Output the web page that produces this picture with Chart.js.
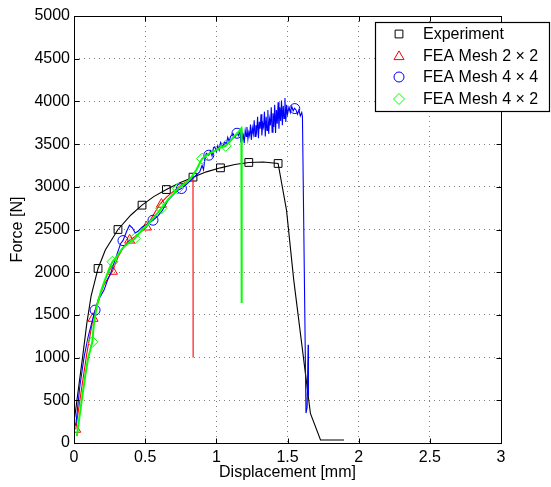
<!DOCTYPE html>
<html><head><meta charset="utf-8">
<script src="https://cdn.jsdelivr.net/npm/chart.js@4/dist/chart.umd.min.js"></script>
<style>html,body{margin:0;padding:0;background:#fff;}</style>
</head><body>
<canvas id="c" width="551" height="487" style="display:block;width:551px;height:487px"></canvas>
<script>
// ---- tick labels ----
const xTickValues = [0, 0.5, 1, 1.5, 2, 2.5, 3];
const xTickLabels = ['0', '0.5', '1', '1.5', '2', '2.5', '3'];
const yTickValues = [0, 500, 1000, 1500, 2000, 2500, 3000, 3500, 4000, 4500, 5000];
const yTickLabels = ['0', '500', '1000', '1500', '2000', '2500', '3000', '3500', '4000', '4500', '5000'];

// ---- legend labels ----
const seriesNames = ['Experiment', 'FEA Mesh 2 \u00d7 2', 'FEA Mesh 4 \u00d7 4', 'FEA Mesh 4 \u00d7 2'];

// ---- Experiment (curve + markers) ----
const expX = [0.005, 0.03, 0.06, 0.09, 0.12, 0.169, 0.22, 0.309, 0.40, 0.478, 0.56, 0.649, 0.74, 0.836, 0.93, 1.029, 1.13, 1.228, 1.33, 1.434, 1.493, 1.544, 1.661, 1.732, 1.897];
const expY = [300, 620, 1000, 1400, 1720, 2044, 2260, 2500, 2670, 2785, 2885, 2968, 3045, 3113, 3175, 3222, 3262, 3285, 3290, 3273, 2727, 1907, 347, 35, 35];
const expMarkX = [0.169, 0.309, 0.478, 0.649, 0.836, 1.029, 1.228, 1.434];
const expMarkY = [2044, 2500, 2785, 2968, 3113, 3222, 3285, 3273];

// ---- FEA Mesh 2x2 (red) ----
const m22X = [0.012, 0.05, 0.09, 0.134, 0.17, 0.21, 0.27, 0.31, 0.35, 0.391, 0.43, 0.47, 0.509, 0.55, 0.602, 0.65, 0.70, 0.76, 0.80, 0.836, 0.837];
const m22Y = [160, 600, 1050, 1459, 1680, 1850, 2010, 2180, 2300, 2375, 2420, 2470, 2528, 2650, 2795, 2880, 2950, 3030, 3070, 3105, 1000];
const m22MarkX = [0.012, 0.134, 0.27, 0.391, 0.509, 0.614];
const m22MarkY = [160, 1459, 2010, 2375, 2528, 2795];

// ---- FEA Mesh 4x4 (blue) ----
const m44X = [0.012, 0.04, 0.07, 0.10, 0.148, 0.18, 0.211, 0.234, 0.26, 0.29, 0.328, 0.344, 0.37, 0.39, 0.41, 0.43, 0.45, 0.48, 0.52, 0.555, 0.59, 0.62, 0.66, 0.70, 0.73, 0.755, 0.79, 0.83, 0.86, 0.883, 0.90, 0.91, 0.92, 0.93, 0.947, 0.96, 0.97, 0.98, 0.989, 1.00, 1.01, 1.02, 1.03, 1.045, 1.059, 1.07, 1.08, 1.09, 1.10, 1.117, 1.13, 1.145, 1.155, 1.165, 1.172, 1.178, 1.185, 1.19, 1.196, 1.203, 1.21, 1.215, 1.222, 1.228, 1.234, 1.24, 1.246, 1.253, 1.26, 1.266, 1.272, 1.278, 1.284, 1.29, 1.296, 1.302, 1.308, 1.314, 1.32, 1.326, 1.332, 1.338, 1.344, 1.35, 1.356, 1.362, 1.368, 1.374, 1.38, 1.386, 1.392, 1.398, 1.404, 1.41, 1.416, 1.422, 1.428, 1.434, 1.44, 1.446, 1.452, 1.458, 1.464, 1.47, 1.476, 1.482, 1.488, 1.494, 1.50, 1.51, 1.52, 1.53, 1.54, 1.55, 1.56, 1.57, 1.58, 1.59, 1.60, 1.605, 1.63, 1.638, 1.645, 1.647];
const m44Y = [200, 650, 1000, 1250, 1556, 1700, 1790, 1900, 2000, 2150, 2337, 2370, 2480, 2550, 2520, 2460, 2480, 2530, 2570, 2609, 2660, 2720, 2840, 2910, 2960, 2980, 3030, 3090, 3140, 3175, 3250, 3200, 3340, 3390, 3370, 3420, 3360, 3460, 3468, 3410, 3480, 3430, 3520, 3470, 3526, 3500, 3580, 3530, 3590, 3624, 3580, 3627, 3600, 3660, 3520, 3650, 3560, 3600, 3510, 3660, 3590, 3700, 3560, 3640, 3600, 3730, 3550, 3690, 3620, 3780, 3590, 3720, 3650, 3820, 3570, 3760, 3680, 3850, 3600, 3740, 3700, 3880, 3590, 3820, 3660, 3900, 3620, 3790, 3720, 3930, 3640, 3860, 3700, 3960, 3630, 3900, 3740, 3990, 3680, 3930, 3770, 4010, 3720, 3950, 3800, 4040, 3760, 3960, 3850, 3930, 3870, 3940, 3890, 3920, 3900, 3850, 3900, 3830, 3870, 3820, 350, 420, 1150, 550];
const m44MarkX = [0.148, 0.344, 0.555, 0.755, 0.947, 1.145, 1.551];
const m44MarkY = [1556, 2370, 2609, 2980, 3370, 3627, 3916];

// ---- FEA Mesh 4x2 (green) ----
const m42X = [0.02, 0.05, 0.08, 0.10, 0.129, 0.14, 0.16, 0.19, 0.22, 0.25, 0.27, 0.30, 0.34, 0.38, 0.427, 0.47, 0.52, 0.56, 0.614, 0.66, 0.70, 0.731, 0.78, 0.82, 0.86, 0.90, 0.95, 1.00, 1.03, 1.065, 1.09, 1.12, 1.15, 1.176, 1.178];
const m42Y = [80, 450, 800, 1000, 1185, 1400, 1600, 1780, 1920, 2050, 2122, 2180, 2280, 2340, 2395, 2480, 2560, 2640, 2746, 2850, 2920, 2980, 3040, 3100, 3200, 3330, 3390, 3430, 3460, 3480, 3520, 3580, 3630, 3683, 1640];
const m42MarkX = [0.129, 0.27, 0.427, 0.614, 0.731, 0.90, 1.065];
const m42MarkY = [1185, 2122, 2395, 2746, 2980, 3330, 3480];

const FONT = 'Liberation Sans, Arial, Helvetica, sans-serif';
const pts = (xs, ys) => xs.map((x, i) => ({x: x, y: ys[i]}));

function lineDs(xs, ys, color, order, width) {
  return {type: 'line', data: pts(xs, ys), borderColor: color, borderWidth: width || 1,
    pointRadius: 0, fill: false, tension: 0, order: order, showLine: true};
}
function markDs(xs, ys, color, style, r, order) {
  return {type: 'scatter', data: pts(xs, ys), borderColor: color, backgroundColor: 'rgba(0,0,0,0)',
    pointStyle: style, pointRadius: r, pointHoverRadius: r, pointBorderWidth: 1, showLine: false, order: order};
}

const colors = ['#000000', '#ff0000', '#0000ff', '#00ff00'];
const styles = ['rect', 'triangle', 'circle', 'rectRot'];
const radii = [5.5, 5.8, 5, 5.5];

const datasets = [
  lineDs(m42X, m42Y, colors[3], 1, 2),
  markDs(m42MarkX, m42MarkY, colors[3], styles[3], radii[3], 0),
  lineDs(m44X, m44Y, colors[2], 3, 1.1),
  markDs(m44MarkX, m44MarkY, colors[2], styles[2], radii[2], 2),
  lineDs(m22X, m22Y, colors[1], 5, 1.1),
  markDs(m22MarkX, m22MarkY, colors[1], styles[1], radii[1], 4),
  lineDs(expX, expY, colors[0], 7, 1.1),
  markDs(expMarkX, expMarkY, colors[0], styles[0], radii[0], 6)
];

function drawMarker(ctx, style, x, y, r) {
  ctx.beginPath();
  if (style === 'rect') {
    const s = r * Math.SQRT1_2;
    ctx.rect(x - s, y - s, 2 * s, 2 * s);
  } else if (style === 'triangle') {
    ctx.moveTo(x, y - r);
    ctx.lineTo(x + r * Math.sin(2 * Math.PI / 3), y - r * Math.cos(2 * Math.PI / 3));
    ctx.lineTo(x + r * Math.sin(4 * Math.PI / 3), y - r * Math.cos(4 * Math.PI / 3));
    ctx.closePath();
  } else if (style === 'circle') {
    ctx.arc(x, y, r, 0, 2 * Math.PI);
  } else {
    ctx.moveTo(x - r, y); ctx.lineTo(x, y - r); ctx.lineTo(x + r, y); ctx.lineTo(x, y + r);
    ctx.closePath();
  }
  ctx.stroke();
}

const framePlugin = {
  id: 'frame',
  afterDatasetsDraw(chart) {
    const {ctx, chartArea: a, scales} = chart;
    ctx.save();
    ctx.strokeStyle = '#000';
    ctx.lineWidth = 1;
    const L = Math.round(a.left) + 0.5, R = Math.round(a.right) + 0.5;
    const T = Math.round(a.top) + 0.5, B = Math.round(a.bottom) + 0.5;
    ctx.strokeRect(L, T, R - L, B - T);
    ctx.beginPath();
    const tl = 5;
    xTickValues.forEach(v => {
      const px = Math.round(scales.x.getPixelForValue(v)) + 0.5;
      ctx.moveTo(px, B); ctx.lineTo(px, B - tl);
      ctx.moveTo(px, T); ctx.lineTo(px, T + tl);
    });
    yTickValues.forEach(v => {
      const py = Math.round(scales.y.getPixelForValue(v)) + 0.5;
      ctx.moveTo(L, py); ctx.lineTo(L + tl, py);
      ctx.moveTo(R, py); ctx.lineTo(R - tl, py);
    });
    ctx.stroke();
    ctx.restore();
  },
  afterDraw(chart) {
    const ctx = chart.ctx;
    ctx.save();
    const bx = 375.5, by = 22.5, bw = 174, bh = 89;
    ctx.fillStyle = '#fff';
    ctx.fillRect(bx, by, bw, bh);
    ctx.strokeStyle = '#000';
    ctx.lineWidth = 1.2;
    ctx.strokeRect(bx, by, bw, bh);
    const rows = [34, 55.5, 77, 99];
    ctx.font = '16px ' + FONT;
    ctx.textBaseline = 'middle';
    ctx.textAlign = 'left';
    seriesNames.forEach((name, i) => {
      ctx.strokeStyle = colors[i];
      ctx.lineWidth = 1;
      drawMarker(ctx, styles[i], 399, rows[i] + (i === 1 ? 1.2 : 0), radii[i]);
      ctx.fillStyle = '#000';
      ctx.fillText(name, 423, rows[i] + 1);
    });
    ctx.restore();
  }
};

new Chart(document.getElementById('c'), {
  type: 'scatter',
  data: {datasets: datasets},
  options: {
    responsive: false,
    animation: false,
    events: [],
    layout: {padding: {top: 16, right: 50, left: 0, bottom: 0}},
    plugins: {legend: {display: false}, tooltip: {enabled: false}},
    scales: {
      x: {
        type: 'linear', min: 0, max: 3,
        afterBuildTicks: s => { s.ticks = xTickValues.map(v => ({value: v})); },
        afterFit: s => { s.height = 44; },
        ticks: {callback: (v, i) => xTickLabels[i], color: '#000', padding: 5,
          font: {family: FONT, size: 16}, maxRotation: 0, autoSkip: false},
        grid: {color: 'rgba(0,0,0,0.5)', lineWidth: 1, drawTicks: false},
        border: {display: false, dash: [1, 4]},
        title: {display: true, text: 'Displacement [mm]', color: '#000',
          font: {family: FONT, size: 16}, padding: {top: 0, bottom: 5}}
      },
      y: {
        type: 'linear', min: 0, max: 5000,
        afterBuildTicks: s => { s.ticks = yTickValues.map(v => ({value: v})); },
        afterFit: s => { s.width = 74; },
        ticks: {callback: (v, i) => yTickLabels[i], color: '#000', padding: 4,
          font: {family: FONT, size: 16}, autoSkip: false},
        grid: {color: 'rgba(0,0,0,0.5)', lineWidth: 1, drawTicks: false},
        border: {display: false, dash: [1, 4]},
        title: {display: true, text: 'Force [N]', color: '#000',
          font: {family: FONT, size: 16}, padding: {top: 8, bottom: 0}}
      }
    }
  },
  plugins: [framePlugin]
});
</script>
</body></html>
